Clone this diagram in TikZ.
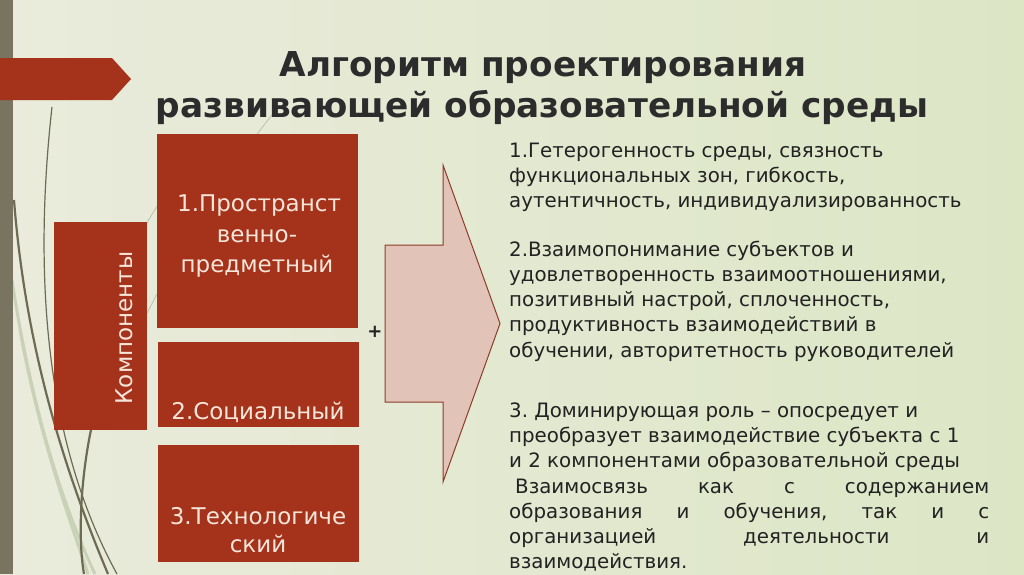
\documentclass[tikz,border=0pt]{standalone}
\usepackage{fontspec}
\setmainfont{DejaVu Sans}
\frenchspacing
\definecolor{bgL}{HTML}{EAEBDC}
\definecolor{bgM}{HTML}{EFF0E5}
\definecolor{bgR}{HTML}{DCE6C5}
\definecolor{barC}{HTML}{78745F}
\definecolor{redC}{HTML}{A5321B}
\definecolor{boxTxt}{HTML}{F6E6DA}
\definecolor{arrF}{HTML}{E2C3B8}
\definecolor{arrD}{HTML}{8E3B2B}
\definecolor{wispD}{HTML}{6E6B55}
\definecolor{wispL}{HTML}{C9D2B6}
\definecolor{titleC}{HTML}{2C2C2C}
\definecolor{txtC}{HTML}{222222}
\begin{document}
\begin{tikzpicture}[x=1pt,y=-1pt,
  redbox/.style={fill=redC,draw=none,inner sep=0,outer sep=0},
  boxtext/.style={text=boxTxt,font=\fontsize{23}{28}\selectfont,anchor=base,inner sep=0},
  bodytext/.style={text=txtC,font=\fontsize{19.8}{25}\selectfont\frenchspacing,anchor=base west,inner sep=0},
  titletext/.style={text=titleC,font=\fontsize{34.3}{42}\selectfont\bfseries,anchor=base,inner sep=0},
  wisp/.style={draw=wispD,line width=2.2pt},
  wispfaint/.style={draw=wispL,line width=3pt},
  wispthin/.style={draw=wispL!80!gray,line width=0.8pt}
]
\useasboundingbox (0,0) rectangle (1024,574);
% background
\shade[left color=bgL,middle color=bgM,right color=bgR] (0,0) rectangle (1024,574);
% wisp decoration
\draw[wispfaint] (12,280) .. controls (30,400) and (60,500) .. (95,574);
\draw[wispfaint] (20,330) .. controls (40,440) and (70,520) .. (88,574);
\draw[wispthin] (95,420) .. controls (150,300) and (210,190) .. (280,105);
\draw[wispthin] (110,290) .. controls (130,250) and (150,215) .. (175,180);
\draw[wisp,line width=1.2pt] (52,107) .. controls (36,250) and (38,430) .. (117,574);
\draw[wisp] (14,200) .. controls (25,340) and (60,460) .. (108,574);
\draw[wisp] (92,425) .. controls (80,480) and (78,540) .. (84,574);
% left bar
\fill[barC] (0,0) rectangle (13,574);
% banner
\fill[redC] (0,58) -- (112,58) -- (131,79) -- (112,100) -- (0,100) -- cycle;
% title
\node[titletext] (t1) at (543,76) {Алгоритм проектирования};
\node[titletext] (t2) at (542,117) {развивающей образовательной среды};
% boxes
\node[redbox,minimum width=93pt,minimum height=208pt] (komp) at (100,326) {};
\node[redbox,minimum width=201pt,minimum height=194pt] (b1) at (257.5,231) {};
\node[redbox,minimum width=201pt,minimum height=85pt] (b2) at (258.5,384.5) {};
\node[redbox,minimum width=201pt,minimum height=117pt] (b3) at (258.5,503.5) {};
\node[boxtext,anchor=center,rotate=90] (kt) at (124,328) {Компоненты};
\node[boxtext] (b1a) at (259,211) {1.Пространст};
\node[boxtext] (b1b) at (257,242) {венно-};
\node[boxtext] (b1c) at (257,272) {предметный};
\node[boxtext] (b2a) at (258,419) {2.Социальный};
\node[boxtext] (b3a) at (258,524) {3.Технологиче};
\node[boxtext] (b3b) at (258,552) {ский};
% plus
\node[text=txtC,font=\fontsize{18}{20}\selectfont\bfseries,inner sep=0] (plus) at (375,332) {+};
% big arrow
\filldraw[fill=arrF,draw=arrD,line width=1pt,line join=miter]
  (385,245) -- (443,245) -- (443,165) -- (500,323.5) -- (443,482) -- (443,402) -- (385,402) -- cycle;
% right text
\node[bodytext] (p1a) at (509,157) {1.Гетерогенность среды, связность};
\node[bodytext] (p1b) at (509,182) {функциональных зон, гибкость,};
\node[bodytext] (p1c) at (509,207) {аутентичность, индивидуализированность};
\node[bodytext] (p2a) at (509,256) {2.Взаимопонимание субъектов и};
\node[bodytext] (p2b) at (509,281) {удовлетворенность взаимоотношениями,};
\node[bodytext] (p2c) at (509,306) {позитивный настрой, сплоченность,};
\node[bodytext] (p2d) at (509,331) {продуктивность взаимодействий в};
\node[bodytext] (p2e) at (509,357) {обучении, авторитетность руководителей};
\node[bodytext] (p3a) at (509,417) {3. Доминирующая роль – опосредует и};
\node[bodytext] (p3b) at (509,442) {преобразует взаимодействие субъекта с 1};
\node[bodytext] (p3c) at (509,467) {и 2 компонентами образовательной среды};
\node[bodytext] (p3d) at (515,493) {\makebox[474pt][l]{Взаимосвязь\hfill как\hfill с\hfill содержанием}};
\node[bodytext] (p3e) at (509,518) {\makebox[480pt][l]{образования\hfill и\hfill обучения,\hfill так\hfill и\hfill с}};
\node[bodytext] (p3f) at (509,543) {\makebox[480pt][l]{организацией\hfill деятельности\hfill и}};
\node[bodytext] (p3g) at (509,568) {взаимодействия.};
\end{tikzpicture}
\end{document}
